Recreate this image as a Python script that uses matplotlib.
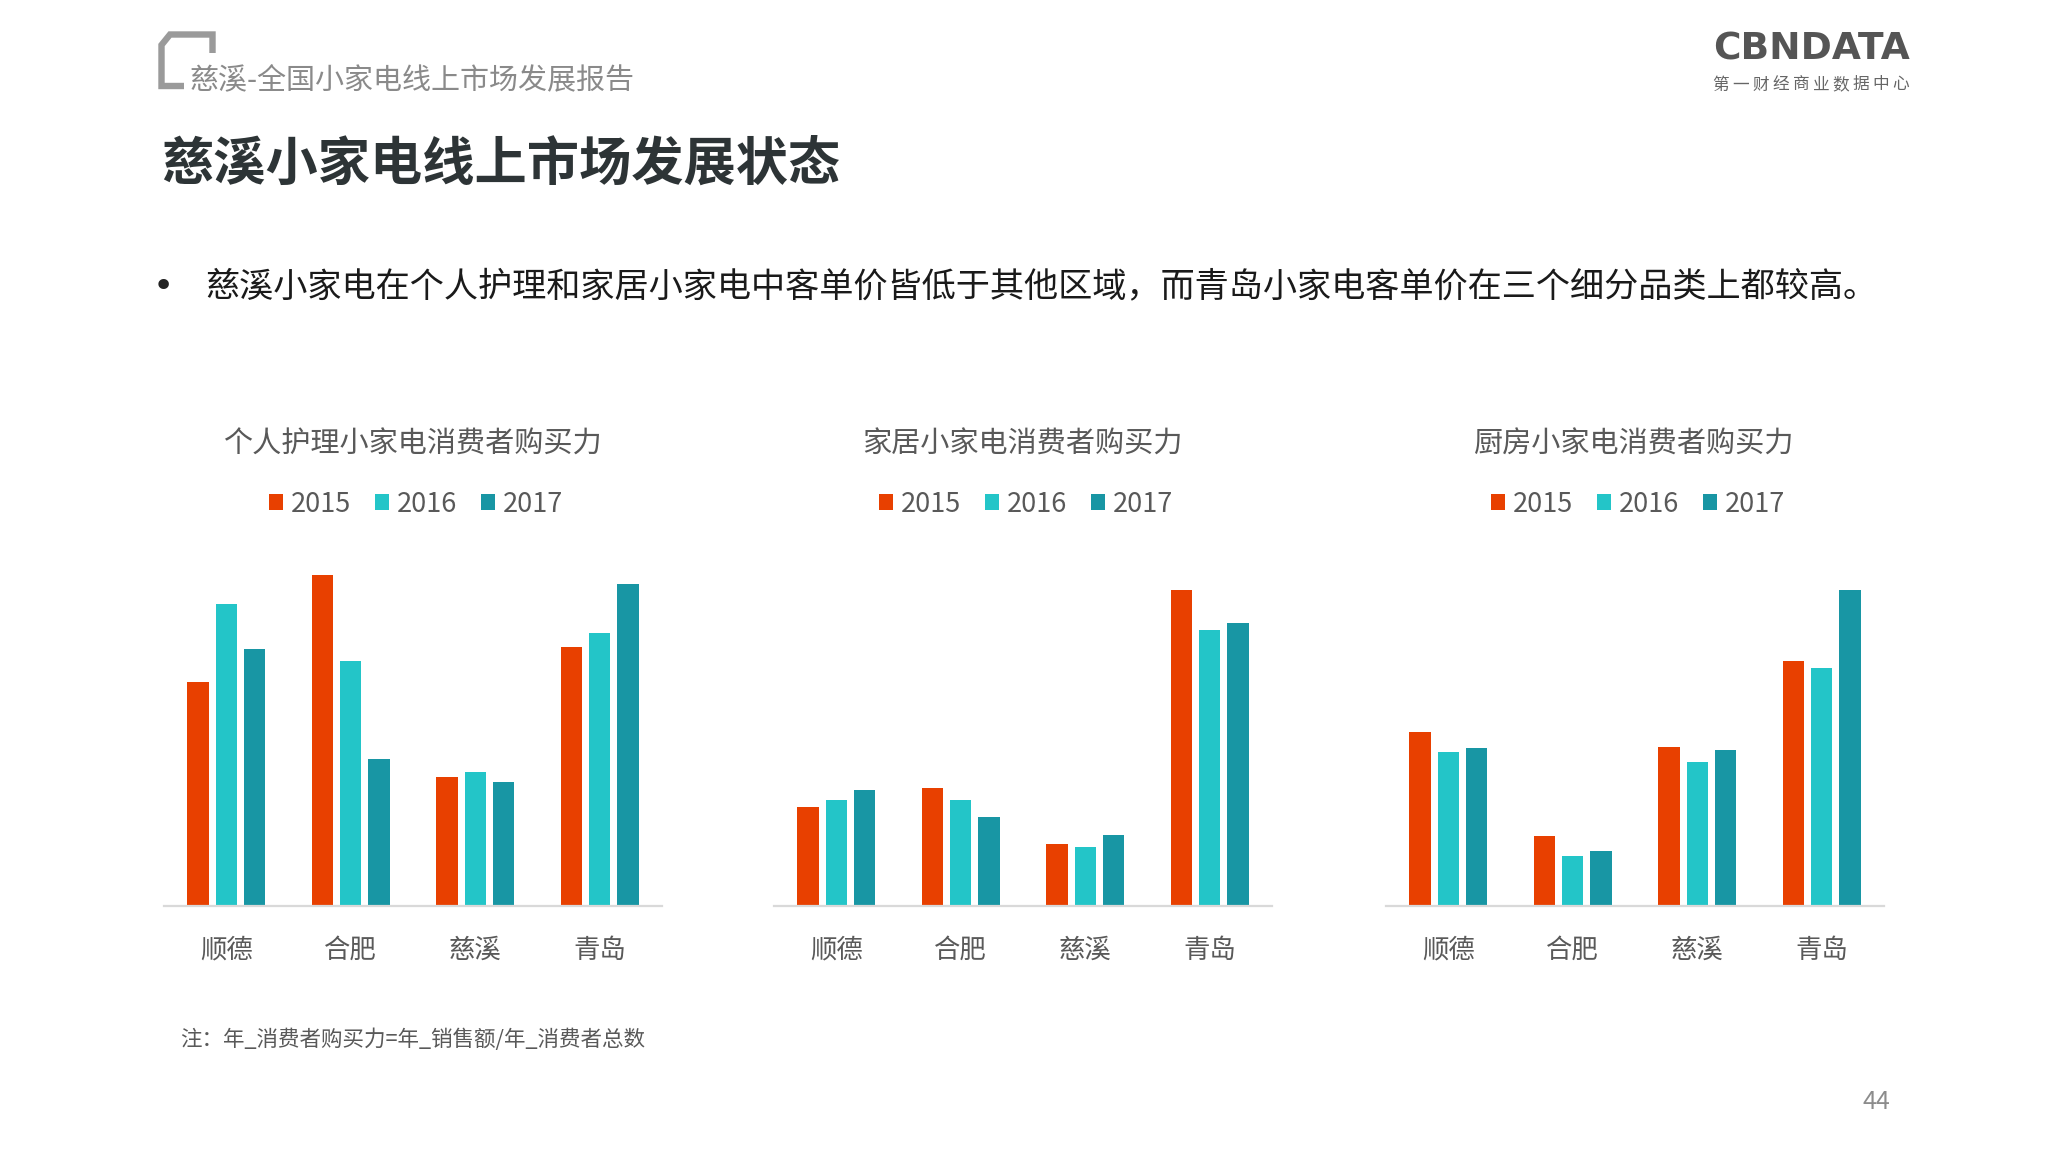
import matplotlib
matplotlib.use("Agg")
import matplotlib.pyplot as plt
import numpy as np
from matplotlib.lines import Line2D

plt.rcParams['font.family'] = ['Noto Sans CJK SC', 'DejaVu Sans']

# ---- data ----
cities = ['顺德', '合肥', '慈溪', '青岛']
years = ['2015', '2016', '2017']
chart_titles = ['个人护理小家电消费者购买力', '家居小家电消费者购买力', '厨房小家电消费者购买力']

# relative purchasing power, per year, per city
personal_2015 = [224, 331, 129, 259]
personal_2016 = [302, 245, 134, 273]
personal_2017 = [257, 147, 124, 322]

home_2015 = [99, 118, 62, 316]
home_2016 = [106, 106, 59, 276]
home_2017 = [116, 89, 71, 283]

kitchen_2015 = [174, 70, 159, 245]
kitchen_2016 = [154, 50, 144, 238]
kitchen_2017 = [158, 55, 156, 316]

datasets = [
    [personal_2015, personal_2016, personal_2017],
    [home_2015, home_2016, home_2017],
    [kitchen_2015, kitchen_2016, kitchen_2017],
]

colors = ['#E84000', '#23C5C8', '#1896A4']
W, H = 2048, 1152

fig = plt.figure(figsize=(W / 100, H / 100), dpi=100)
fig.patch.set_facecolor('white')

def fx(px):
    return px / W

def fy(py):
    return 1 - py / H

# ---- header ----
bracket_x = [212.5, 212.5, 170, 161.5, 161.5, 184]
bracket_y = [53, 34.5, 34.5, 45, 86, 86]
fig.add_artist(Line2D([fx(v) for v in bracket_x], [fy(v) for v in bracket_y],
                      transform=fig.transFigure, color='#9a9a9a', lw=4.6,
                      solid_joinstyle='miter', solid_capstyle='butt'))
fig.text(fx(190), fy(81), '慈溪-全国小家电线上市场发展报告', fontsize=20.9,
         color='#8a8a8a', va='center', ha='left', fontweight='light')
fig.text(fx(161), fy(164), '慈溪小家电线上市场发展状态', fontsize=37.6,
         color='#2d3436', va='center', ha='left', fontweight='heavy')

# logo
fig.text(fx(1910), fy(50), 'CBNDATA', fontsize=27, color='#555555',
         fontweight='bold', va='center', ha='right', family=['DejaVu Sans'])
logo_sub = '第一财经商业数据中心'
for i, ch in enumerate(logo_sub):
    fig.text(fx(1721 + i * 20.0), fy(85), ch, fontsize=12, color='#666666',
             va='center', ha='center')

# bullet
fig.text(fx(163), fy(287), '•', fontsize=26, color='#222222', va='center', ha='center',
         family=['DejaVu Sans'])
fig.text(fx(205), fy(287),
         '慈溪小家电在个人护理和家居小家电中客单价皆低于其他区域，而青岛小家电客单价在三个细分品类上都较高。',
         fontsize=24.6, color='#1a1a1a', va='center', ha='left')

# ---- charts ----
ax_lefts = [164, 774, 1386]
ax_width = 498
baseline = 906
ax_height = 400
step = 0.227
bw = 0.171
x = np.arange(len(cities))

for k in range(3):
    ax = fig.add_axes([fx(ax_lefts[k]), fy(baseline), fx(ax_width), ax_height / H])
    handles = []
    for j in range(3):
        b = ax.bar(x + (j - 1) * step, datasets[k][j], width=bw, color=colors[j],
                   label=years[j], zorder=2)
        handles.append(b)
    ax.set_xlim(-0.5, 3.5)
    ax.set_ylim(0, 400)
    for s in ['top', 'left', 'right']:
        ax.spines[s].set_visible(False)
    ax.spines['bottom'].set_color('#d9d9d9')
    ax.spines['bottom'].set_linewidth(1.6)
    ax.set_yticks([])
    ax.set_xticks(x)
    ax.set_xticklabels(cities, fontsize=19, color='#595959')
    ax.tick_params(axis='x', length=0, pad=22)
    ax.set_facecolor('none')

    cx = ax_lefts[k] + ax_width / 2
    fig.text(fx(cx - 1), fy(445), chart_titles[k], fontsize=21, color='#595959',
             va='center', ha='center')
    ax.legend(handles=handles, labels=years, ncol=3, loc='center',
              bbox_to_anchor=(fx(cx + 3), fy(504)), bbox_transform=fig.transFigure,
              frameon=False, fontsize=19.5, handlelength=0.52, handleheight=0.52,
              handletextpad=0.26, columnspacing=0.91, labelcolor='#595959',
              borderpad=0, borderaxespad=0)

# footnote & page number
fig.text(fx(180), fy(1040), '注：年_消费者购买力=年_销售额/年_消费者总数', fontsize=15.5,
         color='#595959', va='center', ha='left')
fig.text(fx(1876), fy(1102), '44', fontsize=18, color='#8c8c8c', va='center', ha='center')

fig.savefig('out.png', dpi=100, facecolor='white')
